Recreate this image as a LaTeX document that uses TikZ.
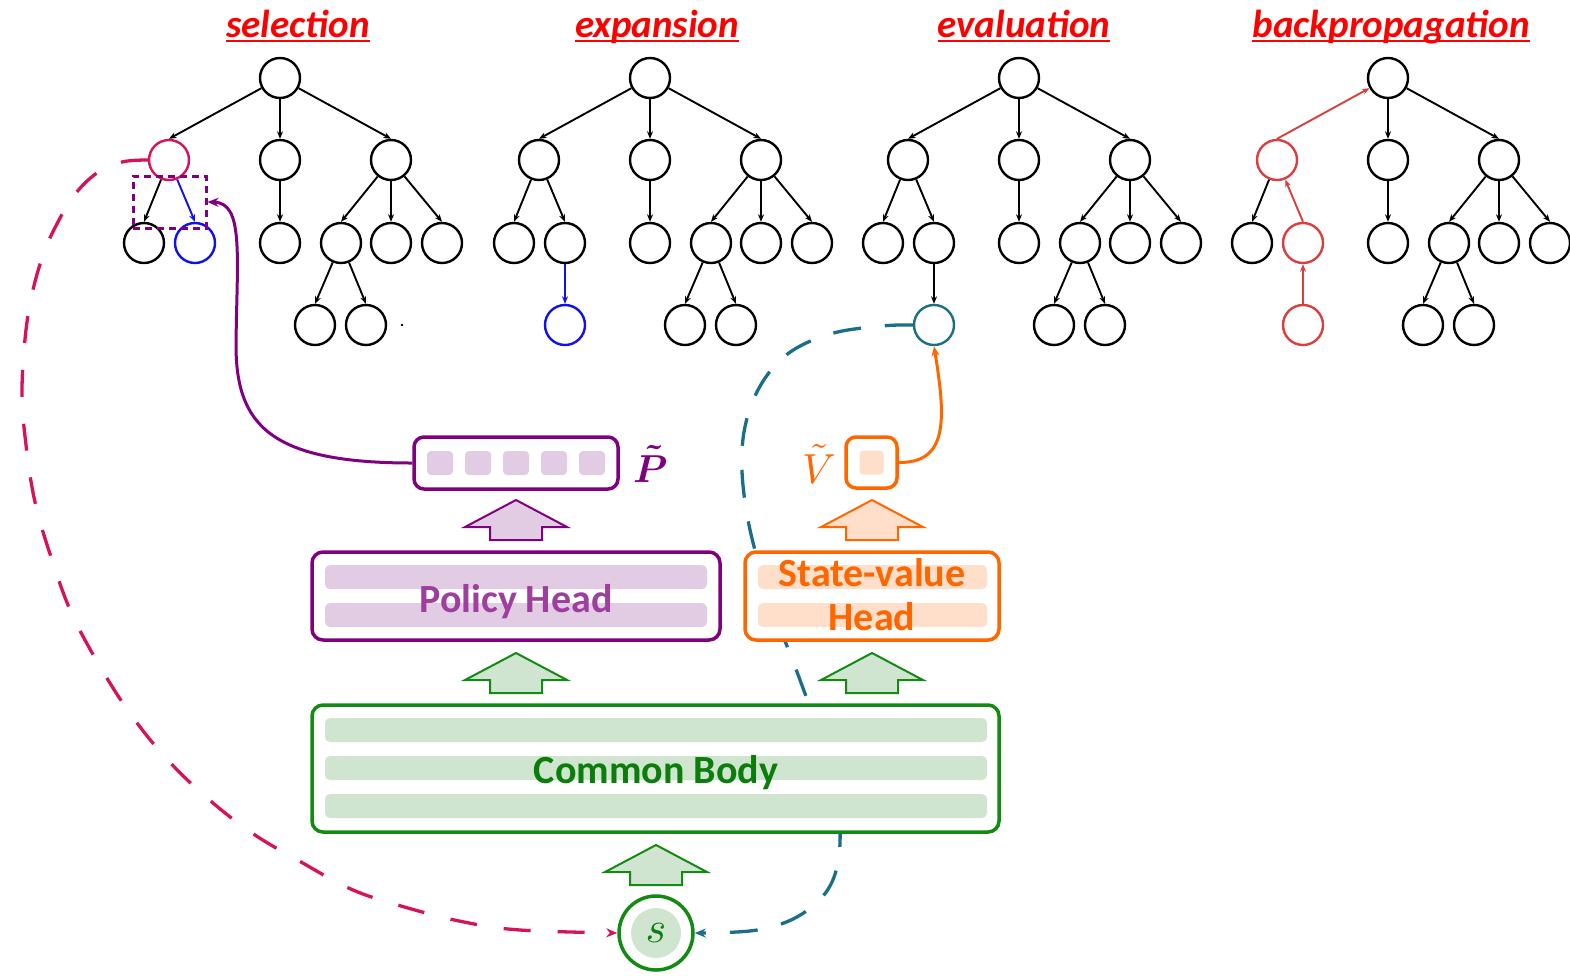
\documentclass[tikz,border=0pt]{standalone}
\usepackage{fontspec}
\newfontfamily\headfont{Carlito}
\usetikzlibrary{arrows.meta}

\definecolor{titlered}{HTML}{FF0000}
\definecolor{pol}{HTML}{800080}
\definecolor{polfill}{HTML}{E2CCE4}
\definecolor{poltext}{HTML}{9E3FA0}
\definecolor{val}{HTML}{FF6600}
\definecolor{valfill}{HTML}{FFDFC9}
\definecolor{body}{HTML}{138A13}
\definecolor{bodyfill}{HTML}{CFE5CF}
\definecolor{bodytext}{HTML}{0A7D0A}
\definecolor{selc}{HTML}{D6125A}
\definecolor{evalc}{HTML}{1A6E88}
\definecolor{backc}{HTML}{D84040}
\definecolor{newc}{HTML}{1010F0}

\tikzset{
  tn/.style={circle, draw=black, line width=2.4, minimum size=40, inner sep=0, fill=white},
  te/.style={line width=1.9, -{Stealth[length=7.5pt,width=6pt]}},
  title/.style={font=\headfont\bfseries\itshape\fontsize{39}{39}\selectfont, text=titlered, inner sep=0, anchor=base},
  titleline/.style={titlered, line width=2.6},
  headtext/.style={font=\headfont\bfseries\fontsize{40}{40}\selectfont, inner sep=0, anchor=base},
  netbox/.style={rounded corners=11, line width=3.5, fill=white, inner sep=0},
  bar/.style={rounded corners=5},
  curve/.style={line width=3.3},
}

% one search tree: prefix, root x, style of the first child, style of its right child
\newcommand\mctstree[4]{%
  \node[tn] (#1-r) at (#2,78) {};
  \node[tn,#3] (#1-a) at ({#2-111},160) {};
  \node[tn] (#1-b) at (#2,160) {};
  \node[tn] (#1-c) at ({#2+111},160) {};
  \node[tn] (#1-a1) at ({#2-136},243) {};
  \node[tn,#4] (#1-a2) at ({#2-85},243) {};
  \node[tn] (#1-b1) at (#2,243) {};
  \node[tn] (#1-c1) at ({#2+61},243) {};
  \node[tn] (#1-c2) at ({#2+111},243) {};
  \node[tn] (#1-c3) at ({#2+162},243) {};
  \node[tn] (#1-c11) at ({#2+35},325) {};
  \node[tn] (#1-c12) at ({#2+86},325) {};
  \foreach \p/\q in {r/b, r/c, a/a1, b/b1, c/c1, c/c2, c/c3, c1/c11, c1/c12}
    \draw[te] (#1-\p) -- (#1-\q.north);
}

% wide upward block arrow: centre x, tip y, stroke, fill
\newcommand\blockup[4]{%
  \filldraw[draw=#3, fill=#4, line width=2] (#1,#2) -- ++(51,27) -- ++(-25,0) -- ++(0,13)
    -- ++(-52,0) -- ++(0,-13) -- ++(-25,0) -- cycle;
}

\begin{document}
\begin{tikzpicture}[x=1pt, y=-1pt]
\useasboundingbox (0,0) rectangle (1570,975);

% ---- phase titles ----
\foreach \name/\x/\txt in {t1/298/selection, t2/657/expansion, t3/1024/evaluation, t4/1391/backpropagation} {
  \node[title] (\name) at (\x,37) {\txt};
  \draw[titleline] ([yshift=-4]\name.base west) -- ([yshift=-4]\name.base east);
}

% ---- selection ----
\mctstree{sel}{280}{draw=selc}{draw=newc}
\draw[te] (sel-r) -- (sel-a.north);
\draw[te, newc] (sel-a) -- (sel-a2.north);
\fill (402,325) circle (1.3);

% ---- expansion ----
\mctstree{exp}{650}{}{}
\draw[te] (exp-r) -- (exp-a.north);
\draw[te] (exp-a) -- (exp-a2.north);
\node[tn, draw=newc] (exp-x) at (565,325) {};
\draw[te, newc] (exp-a2) -- (exp-x.north);

% ---- evaluation ----
\mctstree{eva}{1019}{}{}
\draw[te] (eva-r) -- (eva-a.north);
\draw[te] (eva-a) -- (eva-a2.north);
\node[tn, draw=evalc] (eva-x) at (934,325) {};
\draw[te] (eva-a2) -- (eva-x.north);

% ---- backpropagation ----
\mctstree{bck}{1388}{draw=backc}{draw=backc}
\node[tn, draw=backc] (bck-x) at (1303,325) {};
\draw[te, backc] (bck-x.north) -- (bck-a2);
\draw[te, backc] (bck-a2.north) -- (bck-a);
\draw[te, backc] (bck-a.north) -- (bck-r);

% children scored by the policy
\node[draw=pol, dashed, dash pattern=on 7pt off 5pt, line width=3, minimum width=73, minimum height=52, inner sep=0]
  (pick) at (169.5,202) {};

% ---- input state ----
\node[circle, draw=body, line width=3.5, minimum size=74, fill=white, inner sep=0] (s) at (656,933) {};
\fill[bodyfill] (s.center) circle (25);
\node[text=bodytext] at (s.center) {\scalebox{4.4}{$s$}};

% ---- dashed feedback loops ----
\draw[curve, evalc, dash pattern=on 28pt off 24pt, -{Stealth[length=11pt,width=9pt]}]
  plot[smooth, tension=0.6] coordinates {(eva-x.west) (882,326) (830,334) (785,356) (755,396)
    (742,450) (748,520) (770,600) (800,680) (828,760) (840,830) (832,882) (802,914) (757,930) (s.east)};
\draw[curve, selc, dash pattern=on 27pt off 27pt, -{Stealth[length=11pt,width=9pt]}]
  plot[smooth, tension=0.6] coordinates {(sel-a.west) (122,162) (97,173) (76,193) (59,220) (42,258)
    (28,315) (22,388) (26,445) (35,502) (51,557) (71,612) (98,663) (129,712) (165,757) (206,797)
    (252,833) (301,862) (353,890) (408,908) (464,922) (520,930) (s.west)};

% ---- network ----
\node[netbox, draw=body, minimum width=687, minimum height=127] (cb) at (655.5,768.5) {};
\foreach \y in {718,756,794}
  \fill[bar, bodyfill] (325,\y) rectangle (987,\y+24);
\node[headtext, text=bodytext] at (656,783) {Common Body};

\node[netbox, draw=pol, minimum width=408, minimum height=88] (ph) at (516,596) {};
\foreach \y in {565,603}
  \fill[bar, polfill] (325,\y) rectangle (707,\y+24);
\node[headtext, text=poltext] at (516,612) {Policy Head};

\node[netbox, draw=val, minimum width=254, minimum height=88] (vh) at (872,596) {};
\foreach \y in {565,603}
  \fill[bar, valfill] (758,\y) rectangle (987,\y+24);
\node[headtext, text=val] at (872,586) {State-value};
\node[headtext, text=val] at (872,630) {Head};

\node[netbox, draw=pol, rounded corners=10, minimum width=204, minimum height=52] (pbox) at (516,463) {};
\foreach \x in {440,478,516,554,592}
  \fill[bar, polfill, rounded corners=4] (\x-13,451) rectangle (\x+13,475);
\node[text=pol, inner sep=0, anchor=base west] at (633,482) {\scalebox{3.9}{\boldmath$\tilde{P}$}};

\node[netbox, draw=val, rounded corners=10, minimum width=51, minimum height=51] (vbox) at (871.5,462.5) {};
\fill[bar, valfill, rounded corners=4] (859.5,450.5) rectangle (883.5,474.5);
\node[text=val, inner sep=0, anchor=base] at (819,483) {\scalebox{4.2}{$\tilde{V}$}};

% block arrows between the layers
\blockup{516}{500}{pol}{polfill}
\blockup{872}{500}{val}{valfill}
\blockup{516}{653}{body}{bodyfill}
\blockup{872}{653}{body}{bodyfill}
\blockup{656}{845}{body}{bodyfill}

% ---- head outputs into the tree ----
\draw[line width=3, pol, -{Stealth[length=11pt,width=9pt]}]
  (pbox.west) .. controls (270,463) and (236,425) .. (236,345)
  .. controls (237,255) and (244,203) .. (pick.east);
\draw[line width=3, val, -{Stealth[length=10pt,width=8pt]}]
  (vbox.east) .. controls (948,463) and (946,420) .. (eva-x.south);

\end{tikzpicture}
\end{document}
